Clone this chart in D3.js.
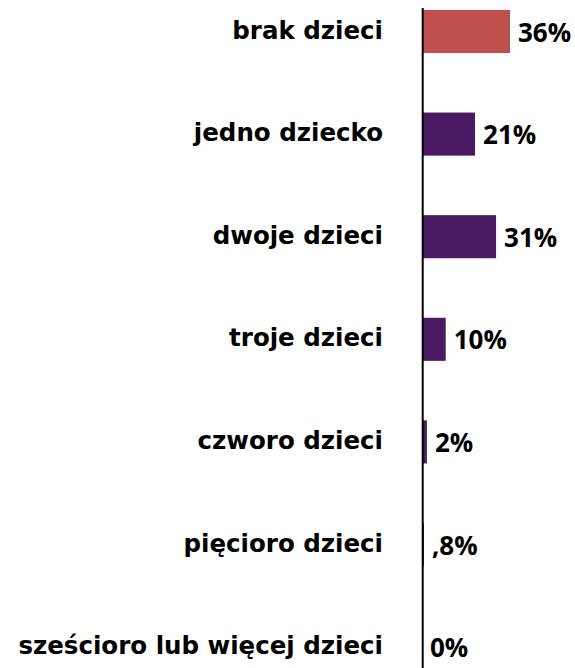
<!DOCTYPE html>
<html><head><meta charset="utf-8">
<script src="https://cdn.jsdelivr.net/npm/d3@7"></script>
<style>html,body{margin:0;padding:0;background:#fff;}svg{display:block;}</style>
</head><body>
<svg id="chart" width="575" height="668"></svg>
<script>
const categories = ["brak dzieci","jedno dziecko","dwoje dzieci","troje dzieci","czworo dzieci","pięcioro dzieci","sześcioro lub więcej dzieci"];
const values = [36, 21.7, 30.3, 9.7, 2.0, 0.8, 0];
const valueLabels = ["36%","21%","31%","10%","2%",",8%","0%"];
const barColors = ["#c0504d","#4a1a63","#4a1a63","#4a1a63","#4a1a63","#4a1a63","#4a1a63"];

const W = 575, H = 668;
const svg = d3.select("#chart");
const font = "'DejaVu Sans', Verdana, sans-serif";
const valFont = "'Open Sans', 'DejaVu Sans', sans-serif";

const x = d3.scaleLinear().domain([0, 36]).range([422, 510]);
const y = d3.scaleBand().domain(categories).range([-19.8, 698.4]).paddingInner(0.58).paddingOuter(0.29);

const data = categories.map((c,i)=>({c, v: values[i], l: valueLabels[i], col: barColors[i]}));

svg.selectAll("rect.bar").data(data).enter().append("rect")
  .attr("class","bar")
  .attr("x", x(0))
  .attr("y", d=>y(d.c))
  .attr("width", d=>Math.max(0, x(d.v)-x(0)))
  .attr("height", y.bandwidth())
  .attr("fill", d=>d.col);

// axis line (drawn over bars)
svg.append("line")
  .attr("x1", 422.7).attr("x2", 422.7)
  .attr("y1", 8).attr("y2", H)
  .attr("stroke", "#000").attr("stroke-width", 2);

// category labels
svg.selectAll("text.cat").data(data).enter().append("text")
  .attr("class","cat")
  .attr("x", 383)
  .attr("y", d=>y(d.c)+y.bandwidth()/2)
  .attr("dy", "0.29em")
  .attr("text-anchor","end")
  .attr("font-family", font)
  .attr("font-weight","bold")
  .attr("font-size", "24.5px")
  .attr("fill","#000")
  .text(d=>d.c);

// value labels
svg.selectAll("text.val").data(data).enter().append("text")
  .attr("class","val")
  .attr("x", d=>x(d.v)+8)
  .attr("y", d=>y(d.c)+y.bandwidth()/2)
  .attr("dy", "0.39em")
  .attr("font-family", valFont)
  .attr("font-weight","bold")
  .attr("font-size", "26px")
  .attr("fill","#000")
  .text(d=>d.l);
</script>
</body></html>
